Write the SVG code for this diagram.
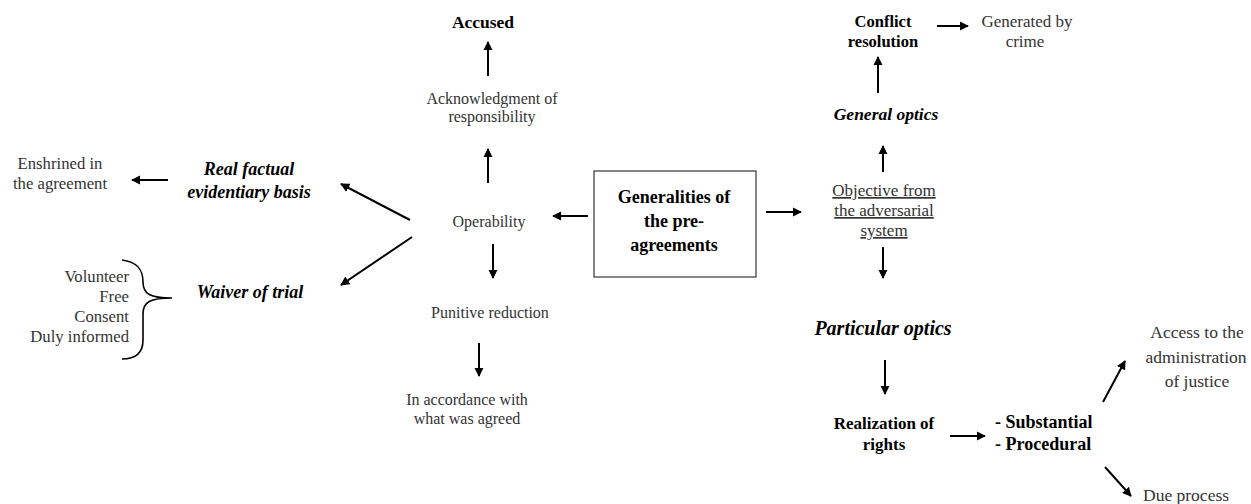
<svg xmlns="http://www.w3.org/2000/svg" width="1251" height="504" viewBox="0 0 1251 504">
<style>
text{font-family:'Liberation Serif','Times New Roman',serif;text-anchor:middle;fill:#333}
.r{font-size:16px}
.rl{font-size:17.5px}
.b{font-size:17px;font-weight:bold;fill:#000}
.bi{font-size:18px;font-weight:bold;font-style:italic;fill:#000}
.u{text-decoration:underline}
.e{text-anchor:end}
.s{text-anchor:start}
.c line,.c path{stroke:#000;stroke-width:2;fill:none}
</style>
<defs>
<marker id="ah" viewBox="0 0 10 10" refX="9" refY="5" markerWidth="4.6" markerHeight="4.6" orient="auto" markerUnits="strokeWidth">
<path d="M0,0 L10,5 L0,10 Z" fill="#000"/>
</marker>
</defs>
<rect width="1251" height="504" fill="#fff"/>
<g class="c" id="connectors">
<line x1="488" y1="76" x2="488" y2="42" marker-end="url(#ah)"/>
<line x1="488" y1="183" x2="488" y2="149" marker-end="url(#ah)"/>
<line x1="588" y1="216" x2="553" y2="216" marker-end="url(#ah)"/>
<line x1="766" y1="212" x2="801" y2="212" marker-end="url(#ah)"/>
<line x1="883" y1="172" x2="883" y2="146" marker-end="url(#ah)"/>
<line x1="878" y1="93" x2="878" y2="57" marker-end="url(#ah)"/>
<line x1="937" y1="26" x2="968" y2="26" marker-end="url(#ah)"/>
<line x1="883" y1="247" x2="883" y2="278" marker-end="url(#ah)"/>
<line x1="885" y1="360" x2="885" y2="394" marker-end="url(#ah)"/>
<line x1="950" y1="436" x2="985" y2="436" marker-end="url(#ah)"/>
<line x1="1103" y1="402" x2="1125" y2="361" marker-end="url(#ah)"/>
<line x1="1105" y1="467" x2="1131" y2="496" marker-end="url(#ah)"/>
<line x1="410" y1="220" x2="341" y2="184" marker-end="url(#ah)"/>
<line x1="412" y1="237" x2="341" y2="285" marker-end="url(#ah)"/>
<line x1="168" y1="180" x2="132" y2="180" marker-end="url(#ah)"/>
<line x1="493" y1="244" x2="493" y2="278" marker-end="url(#ah)"/>
<line x1="479" y1="343" x2="479" y2="376" marker-end="url(#ah)"/>
<path d="M122,260 C138,262 143,270 143,282 C143,294 150,298 172,298 C150,298 143,302 143,314 L143,340 C143,353 136,359 122,359" style="stroke-width:1.6"/>
</g>
<g id="accused"><text class="b" x="483" y="28" style="font-size:17.5px">Accused</text></g>
<g id="acknowledgment"><text class="r" x="492" y="104">Acknowledgment of</text><text class="r" x="492" y="122">responsibility</text></g>
<g id="operability"><text class="r" x="489" y="227">Operability</text></g>
<g id="generalities">
<rect x="594" y="171" width="162" height="106" fill="#fff" stroke="#333" stroke-width="1.2"/>
<text class="b" x="674" y="203" style="font-size:18px">Generalities of</text>
<text class="b" x="674" y="227" style="font-size:18px">the pre-</text>
<text class="b" x="674" y="251" style="font-size:18px">agreements</text>
</g>
<g id="objective"><text class="r u" x="884" y="196" style="font-size:17px">Objective from</text><text class="r u" x="884" y="216" style="font-size:17px">the adversarial</text><text class="r u" x="884" y="236" style="font-size:17px">system</text></g>
<g id="general-optics"><text class="bi" x="886" y="120" style="font-size:17.5px">General optics</text></g>
<g id="conflict"><text class="b" x="883" y="27" style="font-size:16.5px">Conflict</text><text class="b" x="883" y="47" style="font-size:16.5px">resolution</text></g>
<g id="generated"><text class="r" x="1027" y="27" style="font-size:17px">Generated by</text><text class="r" x="1025" y="47" style="font-size:17px">crime</text></g>
<g id="particular-optics"><text class="bi" x="883" y="335" style="font-size:20px">Particular optics</text></g>
<g id="realization"><text class="b" x="884" y="429">Realization of</text><text class="b" x="884" y="450">rights</text></g>
<g id="substantial"><text class="b s" x="995" y="428" style="font-size:18px">- Substantial</text><text class="b s" x="995" y="450" style="font-size:18px">- Procedural</text></g>
<g id="access"><text class="rl" x="1197" y="338">Access to the</text><text class="rl" x="1196" y="363">administration</text><text class="rl" x="1197" y="387">of justice</text></g>
<g id="due-process"><text class="rl s" x="1143" y="501">Due process</text></g>
<g id="real-factual"><text class="bi" x="249" y="175">Real factual</text><text class="bi" x="249" y="198">evidentiary basis</text></g>
<g id="enshrined"><text class="r" x="60" y="169" style="font-size:16.7px">Enshrined in</text><text class="r" x="60" y="189" style="font-size:16.7px">the agreement</text></g>
<g id="waiver"><text class="bi" x="250" y="298">Waiver of trial</text></g>
<g id="waiver-conditions" style="font-size:16.7px">
<text class="r e" x="129" y="282" style="font-size:16.7px">Volunteer</text>
<text class="r e" x="129" y="302" style="font-size:16.7px">Free</text>
<text class="r e" x="129" y="322" style="font-size:16.7px">Consent</text>
<text class="r e" x="129" y="342" style="font-size:16.7px">Duly informed</text>
</g>
<g id="punitive"><text class="r" x="490" y="318">Punitive reduction</text></g>
<g id="accordance"><text class="r" x="467" y="405">In accordance with</text><text class="r" x="467" y="424">what was agreed</text></g>
</svg>
